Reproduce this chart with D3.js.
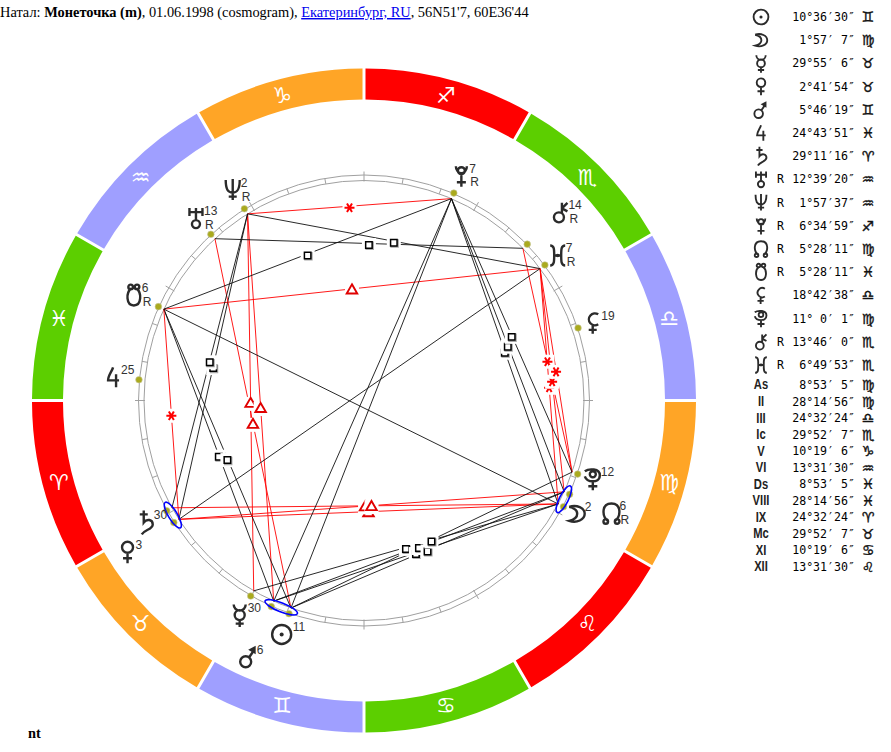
<!DOCTYPE html>
<html>
<head>
<meta charset="utf-8">
<script src="https://d3js.org/d3.v7.min.js"></script>
<style>
body { margin: 0; background: white; }
svg { display: block; }
text { white-space: pre; }
</style>
</head>
<body>
<div id="plot"></div>
<script>
// zodiac, starting at Aries
var signs = ['♈','♉','♊','♋','♌','♍','♎','♏','♐','♑','♒','♓'];
var sign_colors = ['#ff0000','#ffa526','#9f9fff','#5ccf00'];

// planets table
var bodies = ['sun','moon','mercury','venus','mars','jupiter','saturn','uranus','neptune','pluto','node','snode','selena','proserpina','chiron','hades'];
var body_deg = [10,1,29,2,5,24,29,12,1,6,5,5,18,11,13,6];
var body_min = [36,57,55,41,46,43,11,39,57,34,28,28,42,0,46,49];
var body_sec = [30,7,6,54,19,51,16,20,37,59,11,11,38,1,0,53];
var body_sign = [2,5,1,1,2,11,0,10,10,8,5,11,6,5,7,7];
var body_retro = [0,0,0,0,0,0,0,1,1,1,1,1,0,0,1,1];
// how far out the glyph sits on the wheel
var body_label_r = [248,241,248,281,281,252,250,248,248,245,272,253,242,242,272,242];

// houses table
var houses = ['As','II','III','Ic','V','VI','Ds','VIII','IX','Mc','XI','XII'];
var house_deg = [8,28,24,29,10,13,8,28,24,29,10,13];
var house_min = [53,14,32,52,19,31,53,14,32,52,19,31];
var house_sec = [5,56,24,7,6,30,5,56,24,7,6,30];
var house_sign = [5,5,6,7,9,10,11,11,0,1,3,4];

// aspects: from, to, kind. drawn in this order
var aspect_from = ['pluto','snode','hades','pluto','neptune','neptune','neptune','uranus','chiron','neptune','snode','snode','neptune','uranus','snode','venus','saturn','venus','snode','hades','hades','hades','pluto','pluto','pluto','moon','moon','node','node','proserpina','pluto','pluto','snode'];
var aspect_to = ['neptune','hades','moon','snode','mercury','mars','venus','sun','proserpina','saturn','mars','sun','hades','chiron','venus','moon','moon','node','pluto','node','proserpina','venus','moon','node','proserpina','mercury','mars','mars','sun','sun','mars','sun','moon'];
var aspect_kind = ['sextile','trine','sextile','none','trine','trine','square','trine','sextile','square','square','square','square','square','sextile','trine','trine','trine','square','sextile','sextile','opposition','square','square','square','square','square','square','square','square','opposition','opposition','opposition'];

// conjunctions get a blue ring
var conj_from = ['saturn','mars','moon'];
var conj_to = ['venus','sun','node'];

var header_parts = ['Натал: ','Монеточка (m)',', 01.06.1998 (cosmogram), ','Екатеринбург, RU',", 56N51'7, 60E36'44"];
var footer_text = 'nt';

var width = 891;
var height = 752;
var cx = 364;
var cy = 400.5;

var canvas = d3.select('#plot')
    .append('svg')
    .attr('width', width)
    .attr('height', height);

// longitude -> radians for d3.arc / pointRadial. 270 is straight up, zodiac runs counter clockwise
var angle_scale = d3.scaleLinear()
    .domain([270, 630])
    .range([0, -2 * Math.PI]);

function norm(lon) { return lon < 270 ? lon + 360 : lon; }
function polar(lon, r) {
    var p = d3.pointRadial(angle_scale(norm(lon)), r);
    return [cx + p[0], cy + p[1]];
}

var body_lon = {};
bodies.forEach(function(b, i) {
    body_lon[b] = body_sign[i] * 30 + body_deg[i] + body_min[i] / 60 + body_sec[i] / 3600;
});

// header
var header = canvas.append('text')
    .attr('x', 0)
    .attr('y', 17)
    .attr('font-family', '"Liberation Serif", serif')
    .attr('font-size', 14.4)
    .attr('fill', 'black');
header_parts.forEach(function(t, i) {
    var span = header.append('tspan').text(t);
    if (i == 1) span.attr('font-weight', 'bold');
    if (i == 3) span.attr('fill', '#0000ee').attr('text-decoration', 'underline');
});

canvas.append('text')
    .attr('x', 28)
    .attr('y', 738)
    .attr('font-family', '"Liberation Serif", serif')
    .attr('font-size', 14.4)
    .attr('font-weight', 'bold')
    .text(footer_text);

// zodiac ring
var arc = d3.arc()
    .innerRadius(301)
    .outerRadius(332)
    .padAngle(0.009)
    .padRadius(332);

var wheel = canvas.append('g').attr('transform', 'translate(' + cx + ',' + cy + ')');

wheel.selectAll('path.sign')
    .data(signs)
    .enter()
    .append('path')
    .attr('class', 'sign')
    .attr('fill', function(d, i) { return sign_colors[i % 4]; })
    .attr('d', function(d, i) {
        var from = norm(30 * i);
        return arc({ startAngle: angle_scale(from), endAngle: angle_scale(from + 30) });
    });

canvas.selectAll('text.sign-glyph')
    .data(signs)
    .enter()
    .append('text')
    .attr('class', 'sign-glyph')
    .attr('x', function(d, i) { return polar(30 * i + 15, 316)[0]; })
    .attr('y', function(d, i) { return polar(30 * i + 15, 316)[1]; })
    .attr('text-anchor', 'middle')
    .attr('dominant-baseline', 'central')
    .attr('font-family', '"DejaVu Sans"')
    .attr('font-size', 22)
    .attr('fill', 'white')
    .text(function(d) { return d + '\uFE0E'; });

// double circle and ticks
[220, 225.5].forEach(function(r) {
    wheel.append('circle')
        .attr('r', r)
        .attr('fill', 'none')
        .attr('stroke', '#a0a0a0')
        .attr('stroke-width', 1);
});

var ticks = d3.range(0, 360, 10);
canvas.selectAll('line.tick')
    .data(ticks)
    .enter()
    .append('line')
    .attr('class', 'tick')
    .attr('x1', function(d) { return polar(d, d % 30 == 0 ? 219 : 220)[0]; })
    .attr('y1', function(d) { return polar(d, d % 30 == 0 ? 219 : 220)[1]; })
    .attr('x2', function(d) { return polar(d, d % 30 == 0 ? 229 : 225.5)[0]; })
    .attr('y2', function(d) { return polar(d, d % 30 == 0 ? 229 : 225.5)[1]; })
    .attr('stroke', '#a0a0a0')
    .attr('stroke-width', 1);

// planet dots
canvas.selectAll('circle.dot')
    .data(bodies)
    .enter()
    .append('circle')
    .attr('class', 'dot')
    .attr('cx', function(d) { return polar(body_lon[d], 226)[0]; })
    .attr('cy', function(d) { return polar(body_lon[d], 226)[1]; })
    .attr('r', 3.3)
    .attr('fill', '#aaaa1e')
    .attr('stroke', '#c8c8a0')
    .attr('stroke-width', 0.6);

// aspect lines
var aspects = aspect_from.map(function(f, i) {
    return { a: polar(body_lon[f], 220), b: polar(body_lon[aspect_to[i]], 220), kind: aspect_kind[i] };
}).filter(function(d) { return d.kind != 'none'; });

canvas.selectAll('line.aspect')
    .data(aspects)
    .enter()
    .append('line')
    .attr('class', 'aspect')
    .attr('x1', function(d) { return d.a[0]; })
    .attr('y1', function(d) { return d.a[1]; })
    .attr('x2', function(d) { return d.b[0]; })
    .attr('y2', function(d) { return d.b[1]; })
    .attr('stroke', function(d) { return d.kind == 'sextile' || d.kind == 'trine' ? '#ff0000' : '#111'; })
    .attr('stroke-width', 0.9);

// aspect symbols sit in the middle of the line on a white box
var symbols = {
    square: d3.symbol().type(d3.symbolSquare).size(42)(),
    trine: d3.symbol().type(d3.symbolTriangle).size(48)(),
    sextile: d3.symbol().type(d3.symbolAsterisk).size(70)()
};

aspects.filter(function(d) { return d.kind != 'opposition'; }).forEach(function(d) {
    var g = canvas.append('g')
        .attr('transform', 'translate(' + ((d.a[0] + d.b[0]) / 2) + ',' + ((d.a[1] + d.b[1]) / 2 + 1.5) + ')');
    g.append('rect')
        .attr('x', -7).attr('y', -7).attr('width', 14).attr('height', 14)
        .attr('fill', 'white');
    if (d.kind == 'square') {
        g.append('path').attr('d', symbols.square)
            .attr('transform', 'translate(0.8,0.8)')
            .attr('fill', 'none').attr('stroke', '#a8a8a8').attr('stroke-width', 2);
        g.append('path').attr('d', symbols.square)
            .attr('fill', 'white').attr('stroke', 'black').attr('stroke-width', 1.5);
    } else if (d.kind == 'trine') {
        g.append('path').attr('d', symbols.trine)
            .attr('fill', 'white').attr('stroke', '#e00000').attr('stroke-width', 1.9);
    } else {
        g.append('path').attr('d', symbols.sextile)
            .attr('transform', 'rotate(90)')
            .attr('fill', 'none').attr('stroke', '#ff0000').attr('stroke-width', 2);
    }
});

// conjunction rings, around the middle of the pair
conj_from.forEach(function(f, i) {
    var p = polar(body_lon[f], 223);
    var q = polar(body_lon[conj_to[i]], 223);
    var half = Math.hypot(p[0] - q[0], p[1] - q[1]) / 2;
    var rot = Math.atan2(q[1] - p[1], q[0] - p[0]) * 180 / Math.PI;
    canvas.append('ellipse')
        .attr('transform', 'translate(' + ((p[0] + q[0]) / 2) + ',' + ((p[1] + q[1]) / 2) + ') rotate(' + rot + ')')
        .attr('rx', half + 8)
        .attr('ry', 4.5)
        .attr('fill', 'none')
        .attr('stroke', '#0000ff')
        .attr('stroke-width', 1.6);
});

// planet icons, the originals are little pictures drawn in one weight
var icon_lines = {
    sun: 'M-9.5,0 a9.5,9.5 0 1 0 19,0 a9.5,9.5 0 1 0 -19,0',
    moon: 'M-7.5,-7 C0,-9.5 8,-6 8,0 C8,6 0,9.5 -7.5,7 C-3,6 0.5,3.5 0.5,0 C0.5,-3.5 -3,-6 -7.5,-7',
    mercury: 'M-5,0 a5,5 0 1 0 10,0 a5,5 0 1 0 -10,0 M-6,-10.5 A6,6 0 0 0 6,-10.5 M0,5 V12 M-4,8.5 H4',
    venus: 'M-5.5,-5 a5.5,5.5 0 1 0 11,0 a5.5,5.5 0 1 0 -11,0 M0,0.5 V11 M-4.5,6 H4.5',
    mars: 'M-8.5,5 a5.5,5.5 0 1 0 11,0 a5.5,5.5 0 1 0 -11,0 M0.5,0.5 L5,-6',
    jupiter: 'M0,-10 C-1,-6 -5,-2 -5,3 H6 M3,-3 V10',
    saturn: 'M-6,-8 H2 M-2,-12 V0 C1,-4 7,-3 7,2 C7,7 -1,7 -4,12',
    uranus: 'M-6.5,-10 V-2 M6.5,-10 V-2 M-6.5,-6 H6.5 M0,-10 V2 M-4,6 a4,4 0 1 0 8,0 a4,4 0 1 0 -8,0',
    neptune: 'M-7,-10 C-7,-1 -5,2.5 0,2.5 C5,2.5 7,-1 7,-10 M0,-11 V10 M-4,6.5 H4',
    pluto: 'M-3.5,-5 a3.5,3.5 0 1 0 7,0 a3.5,3.5 0 1 0 -7,0 M-5.5,-9.5 a5.5,7 0 0 0 11,0 M0,-1.5 V11 M-4.5,6.5 H4.5',
    node: 'M-3,8 C-10,3 -10,-10 0,-10 C10,-10 10,3 3,8 M-8,8 a2.3,2.3 0 1 0 4.6,0 a2.3,2.3 0 1 0 -4.6,0 M3.4,8 a2.3,2.3 0 1 0 4.6,0 a2.3,2.3 0 1 0 -4.6,0',
    snode: 'M-2.5,-7 C-8,-3 -8,10 0,10 C8,10 8,-3 2.5,-7 M-5.5,-8.5 a2.3,2.3 0 1 0 4.6,0 a2.3,2.3 0 1 0 -4.6,0 M0.9,-8.5 a2.3,2.3 0 1 0 4.6,0 a2.3,2.3 0 1 0 -4.6,0',
    selena: 'M5,-8.5 A6,6 0 1 0 5,1.5 M-0.5,3 V11 M-4.5,7 H3.5',
    proserpina: 'M-8,-8 C-4,-11 7,-11 7,-4 C7,1 3,2 0,2 C-4,2 -7,0 -8,-3 M-3,-5 a3,3 0 1 0 6,0 a3,3 0 1 0 -6,0 M0,2 V11 M-4.5,7 H4.5',
    chiron: 'M-6.5,5 a5,5 0 1 0 10,0 a5,5 0 1 0 -10,0 M1.5,0.5 V-9.5 M1.5,-4 L7,-9.5 M1.5,-4 L7,-1',
    hades: 'M-7.5,-10 C-3.5,-10 -3.5,-6 -3.5,0 C-3.5,6 -3.5,10 -7.5,10 M7.5,-10 C3.5,-10 3.5,-6 3.5,0 C3.5,6 3.5,10 7.5,10 M-3.5,0 H3.5'
};
var icon_solid = {
    sun: 'M-2,0 a2,2 0 1 0 4,0 a2,2 0 1 0 -4,0',
    mars: 'M7,-11 L7,-2.5 L-0.5,-7 Z',
    hades: 'M-1.8,0 a1.8,1.8 0 1 0 3.6,0 a1.8,1.8 0 1 0 -3.6,0'
};

function draw_icon(key, x, y, k) {
    var g = canvas.append('g')
        .attr('transform', 'translate(' + x + ',' + y + ') scale(' + k + ')');
    g.append('path')
        .attr('d', icon_lines[key])
        .attr('fill', 'none')
        .attr('stroke', '#2b2b2b')
        .attr('stroke-width', 2.4);
    if (icon_solid[key]) {
        g.append('path').attr('d', icon_solid[key]).attr('fill', '#2b2b2b');
    }
}

// glyphs on the wheel with degree and R next to them
bodies.forEach(function(b, i) {
    var p = polar(body_lon[b], body_label_r[i]);
    draw_icon(b, p[0], p[1], 1);
    canvas.append('text')
        .attr('x', p[0] + (b == 'sun' ? 11 : 8))
        .attr('y', p[1] - 3)
        .attr('font-family', '"Liberation Sans", sans-serif')
        .attr('font-size', 12)
        .attr('fill', '#333')
        .text(body_deg[i] + 1);
    if (body_retro[i]) {
        canvas.append('text')
            .attr('x', p[0] + 9)
            .attr('y', p[1] + 10.5)
            .attr('font-family', '"Liberation Sans", sans-serif')
            .attr('font-size', 12)
            .attr('fill', '#333')
            .text('R');
    }
});

// right table
function dms(d, m, s) {
    return d3.format('2d')(d) + '°' + d3.format('2d')(m) + '′' + d3.format('2d')(s) + '″';
}

var body_rows = d3.scaleLinear().domain([0, 15]).range([17, 365]);
var house_rows = d3.scaleLinear().domain([0, 11]).range([385, 567]);

function table_text(x, y, t) {
    return canvas.append('text')
        .attr('x', x)
        .attr('y', y)
        .attr('dominant-baseline', 'central')
        .attr('font-family', '"DejaVu Sans Mono", monospace')
        .attr('font-size', 11.6)
        .attr('fill', 'black')
        .text(t);
}

function sign_text(y, s) {
    return canvas.append('text')
        .attr('x', 868)
        .attr('y', y)
        .attr('text-anchor', 'middle')
        .attr('dominant-baseline', 'central')
        .attr('font-family', '"DejaVu Sans"')
        .attr('font-size', 14)
        .attr('fill', '#111')
        .attr('stroke', '#111')
        .attr('stroke-width', 0.4)
        .text(signs[s] + '\uFE0E');
}

bodies.forEach(function(b, i) {
    var y = body_rows(i);
    draw_icon(b, 761, y, 0.78);
    if (body_retro[i]) table_text(777, y, 'R');
    table_text(855, y, dms(body_deg[i], body_min[i], body_sec[i])).attr('text-anchor', 'end');
    sign_text(y, body_sign[i]);
});

houses.forEach(function(h, i) {
    var y = house_rows(i);
    canvas.append('text')
        .attr('transform', 'translate(761,' + y + ') scale(0.8,1)')
        .attr('text-anchor', 'middle')
        .attr('dominant-baseline', 'central')
        .attr('font-family', '"Liberation Sans", sans-serif')
        .attr('font-weight', 'bold')
        .attr('font-size', 14)
        .attr('fill', '#222')
        .text(h);
    table_text(855, y, dms(house_deg[i], house_min[i], house_sec[i])).attr('text-anchor', 'end');
    sign_text(y, house_sign[i]);
});
</script>
</body>
</html>
